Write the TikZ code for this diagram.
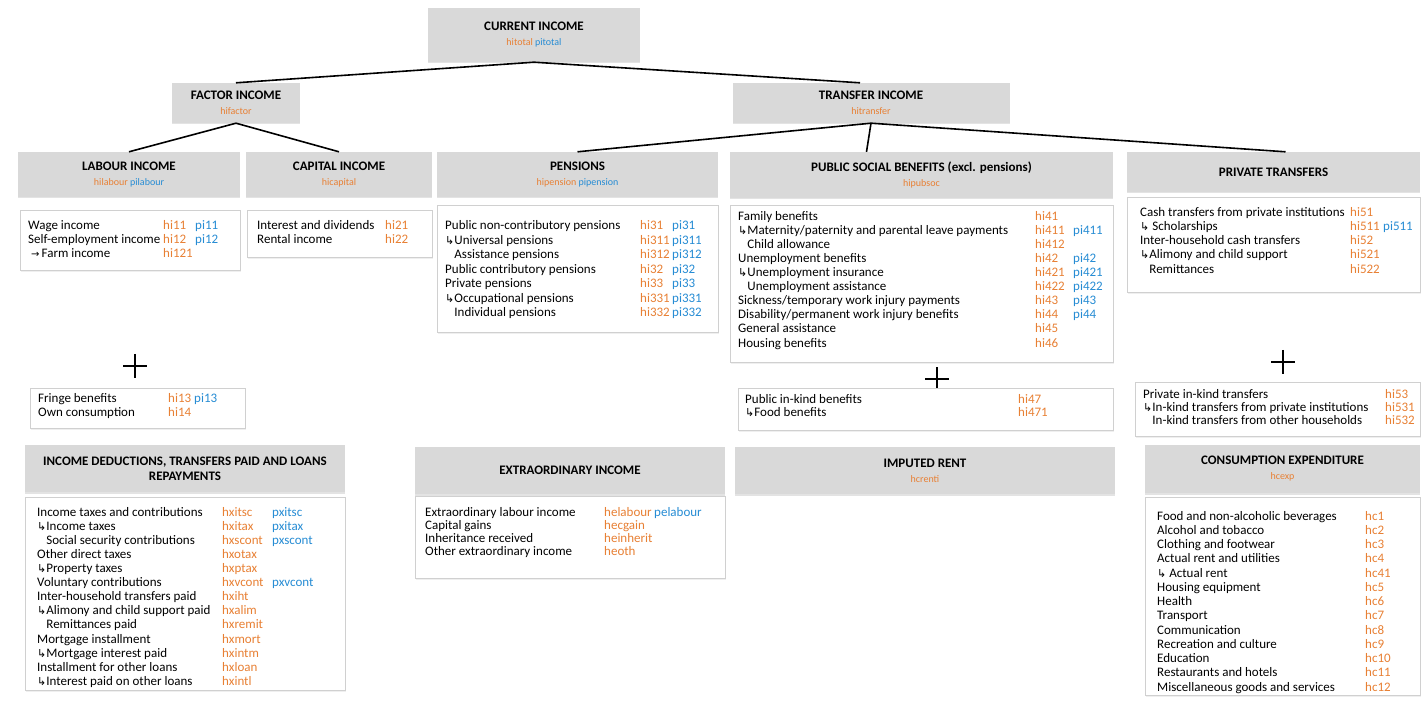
\documentclass[tikz,border=0pt]{standalone}
\usepackage{fontspec}
\setmainfont{Carlito}
\newfontfamily\symfont{DejaVu Sans}
\usepackage{array}
\usetikzlibrary{shadows}
\definecolor{hdrgray}{RGB}{217,217,217}
\definecolor{codeor}{RGB}{232,128,52}
\definecolor{codebl}{RGB}{38,140,212}
\definecolor{boxline}{RGB}{208,208,208}
\newcommand\ho[1]{\textcolor{codeor}{#1}}
\newcommand\pb[1]{\textcolor{codebl}{#1}}
\newcommand\harr{{\symfont\fontsize{11}{11}\selectfont ↳}}
\newcommand\rarr{{\symfont\fontsize{10}{10}\selectfont →}\,}
\newcommand\hind{\phantom{\harr}}
\newcommand\hcode[1]{{\fontsize{10}{12}\selectfont\mdseries #1}}
\tikzset{
  hdrbox/.style={fill=hdrgray, draw=none, inner sep=2pt, align=center,
    font=\fontsize{13}{15}\selectfont\bfseries,
    drop shadow={opacity=0.22, shadow xshift=0pt, shadow yshift=-1.5pt}},
  cbox/.style={draw=boxline, line width=0.8pt, fill=white, anchor=north west, inner sep=0pt,
    drop shadow={opacity=0.12, shadow xshift=0.8pt, shadow yshift=-1.2pt}},
  ctext/.style={anchor=north west, inner sep=0pt},
  conn/.style={line width=1.6pt, black},
  plussign/.style={minimum size=24pt, inner sep=0pt,
    path picture={\draw[line width=2.6pt] (path picture bounding box.north) -- (path picture bounding box.south)
      (path picture bounding box.west) -- (path picture bounding box.east);}}
}
\begin{document}
\begin{tikzpicture}[x=1pt,y=-1pt]
\fill[white] (0,0) rectangle (1422,703);
\useasboundingbox (0,0) rectangle (1422,703);

% ---------- headers ----------
\node[hdrbox, minimum width=212pt, minimum height=54pt] (cur) at (534,35) {CURRENT INCOME\\\hcode{\ho{hitotal} \pb{pitotal}}};
\node[hdrbox, minimum width=128pt, minimum height=40pt] (fac) at (236,103) {FACTOR INCOME\\\hcode{\ho{hifactor}}};
\node[hdrbox, minimum width=277pt, minimum height=40pt] (tra) at (871,103) {TRANSFER INCOME\\\hcode{\ho{hitransfer}}};

\node[hdrbox, minimum width=222pt, minimum height=45pt] (lab) at (129,174.5) {LABOUR INCOME\\\hcode{\ho{hilabour} \pb{pilabour}}};
\node[hdrbox, minimum width=186pt, minimum height=45pt] (cap) at (339,174.5) {CAPITAL INCOME\\\hcode{\ho{hicapital}}};
\node[hdrbox, minimum width=281pt, minimum height=45pt] (pen) at (577.5,174.5) {PENSIONS\\\hcode{\ho{hipension} \pb{pipension}}};
\node[hdrbox, minimum width=383pt, minimum height=46pt] (pub) at (921.5,175) {PUBLIC SOCIAL BENEFITS (excl. pensions)\\\hcode{\ho{hipubsoc}}};
\node[hdrbox, minimum width=293pt, minimum height=40pt] (prt) at (1273.5,172) {PRIVATE TRANSFERS};

\node[hdrbox, minimum width=320pt, minimum height=47pt] (ded) at (185,468.5) {INCOME DEDUCTIONS, TRANSFERS PAID AND LOANS\\REPAYMENTS};
\node[hdrbox, minimum width=310pt, minimum height=47pt] (ext) at (570,470.5) {EXTRAORDINARY INCOME};
\node[hdrbox, minimum width=380pt, minimum height=47pt] (imp) at (925,470.5) {IMPUTED RENT\\\hcode{\ho{hcrenti}}};
\node[hdrbox, minimum width=275pt, minimum height=48pt] (con) at (1282.5,469) {CONSUMPTION EXPENDITURE\\\hcode{\ho{hcexp}}};

% ---------- connectors ----------
\draw[conn] (cur.south) -- (fac.north);
\draw[conn] (cur.south) -- ([xshift=-11pt]tra.north);
\draw[conn] (fac.south) -- (lab.north);
\draw[conn] (fac.south) -- (cap.north);
\draw[conn] (tra.south) -- (pen.north);
\draw[conn] (tra.south) -- ([xshift=-55pt]pub.north);
\draw[conn] (tra.south) -- ([xshift=12pt]prt.north);

% ---------- content boxes ----------
\node[cbox, minimum width=220pt, minimum height=60pt] (labC) at (20,210) {};
\node[ctext, font=\fontsize{13}{14}\selectfont] (labT) at (28,219.2) {\begin{tabular}{@{}p{135pt}@{}p{32pt}@{}l@{}}
Wage income & \ho{hi11} & \pb{pi11}\\
Self-employment income & \ho{hi12} & \pb{pi12}\\
\hspace{3pt}\rarr Farm income & \ho{hi121} &
\end{tabular}};

\node[cbox, minimum width=185pt, minimum height=47pt] (capC) at (247,210) {};
\node[ctext, font=\fontsize{13}{14}\selectfont] (capT) at (257,219.2) {\begin{tabular}{@{}p{128pt}@{}l@{}}
Interest and dividends & \ho{hi21}\\
Rental income & \ho{hi22}
\end{tabular}};

\node[cbox, minimum width=281pt, minimum height=127pt] (penC) at (437,205) {};
\node[ctext, font=\fontsize{13}{14.5}\selectfont] (penT) at (445,219.4) {\begin{tabular}{@{}p{195pt}@{}p{32pt}@{}l@{}}
Public non-contributory pensions & \ho{hi31} & \pb{pi31}\\
\harr Universal pensions & \ho{hi311} & \pb{pi311}\\
\hind Assistance pensions & \ho{hi312} & \pb{pi312}\\
Public contributory pensions & \ho{hi32} & \pb{pi32}\\
Private pensions & \ho{hi33} & \pb{pi33}\\
\harr Occupational pensions & \ho{hi331} & \pb{pi331}\\
\hind Individual pensions & \ho{hi332} & \pb{pi332}
\end{tabular}};

\node[cbox, minimum width=383pt, minimum height=157pt] (pubC) at (730,205) {};
\node[ctext, font=\fontsize{13}{14.1}\selectfont] (pubT) at (738,210.1) {\begin{tabular}{@{}p{297pt}@{}p{38pt}@{}l@{}}
Family benefits & \ho{hi41} & \\
\harr Maternity/paternity and parental leave payments & \ho{hi411} & \pb{pi411}\\
\hind Child allowance & \ho{hi412} & \\
Unemployment benefits & \ho{hi42} & \pb{pi42}\\
\harr Unemployment insurance & \ho{hi421} & \pb{pi421}\\
\hind Unemployment assistance & \ho{hi422} & \pb{pi422}\\
Sickness/temporary work injury payments & \ho{hi43} & \pb{pi43}\\
Disability/permanent work injury benefits & \ho{hi44} & \pb{pi44}\\
General assistance & \ho{hi45} & \\
Housing benefits & \ho{hi46} &
\end{tabular}};

\node[cbox, minimum width=293pt, minimum height=95pt] (prtC) at (1127,197) {};
\node[ctext, font=\fontsize{13}{14.2}\selectfont] (prtT) at (1140,206.1) {\begin{tabular}{@{}p{210pt}@{}p{33pt}@{}l@{}}
Cash transfers from private institutions & \ho{hi51} & \\
\harr\ Scholarships & \ho{hi511} & \pb{pi511}\\
Inter-household cash transfers & \ho{hi52} & \\
\harr Alimony and child support & \ho{hi521} & \\
\hind Remittances & \ho{hi522} &
\end{tabular}};

% ---------- plus signs ----------
\node[plussign] (plusA) at (135,366) {};
\node[plussign] (plusB) at (937,379) {};
\node[plussign] (plusC) at (1283,362) {};

\node[cbox, minimum width=215pt, minimum height=40pt] (fri) at (30,388) {};
\node[ctext, font=\fontsize{13}{14}\selectfont] (friT) at (38,392.2) {\begin{tabular}{@{}p{130pt}@{}p{26pt}@{}l@{}}
Fringe benefits & \ho{hi13} & \pb{pi13}\\
Own consumption & \ho{hi14} &
\end{tabular}};

\node[cbox, minimum width=375pt, minimum height=42pt] (pik) at (738,388) {};
\node[ctext, font=\fontsize{13}{13}\selectfont] (pikT) at (745,393.9) {\begin{tabular}{@{}p{273pt}@{}l@{}}
Public in-kind benefits & \ho{hi47}\\
\harr Food benefits & \ho{hi471}
\end{tabular}};

\node[cbox, minimum width=285pt, minimum height=54pt] (prk) at (1135,382) {};
\node[ctext, font=\fontsize{13}{12.5}\selectfont] (prkT) at (1143,389.25) {\begin{tabular}{@{}p{242pt}@{}l@{}}
Private in-kind transfers & \ho{hi53}\\
\harr In-kind transfers from private institutions & \ho{hi531}\\
\hind In-kind transfers from other households & \ho{hi532}
\end{tabular}};

% ---------- bottom row contents ----------
\node[cbox, minimum width=320pt, minimum height=193pt] (dedC) at (25,497) {};
\node[ctext, font=\fontsize{13}{14.1}\selectfont] (dedT) at (37,506.1) {\begin{tabular}{@{}p{185pt}@{}p{50pt}@{}l@{}}
Income taxes and contributions & \ho{hxitsc} & \pb{pxitsc}\\
\harr Income taxes & \ho{hxitax} & \pb{pxitax}\\
\hind Social security contributions & \ho{hxscont} & \pb{pxscont}\\
Other direct taxes & \ho{hxotax} & \\
\harr Property taxes & \ho{hxptax} & \\
Voluntary contributions & \ho{hxvcont} & \pb{pxvcont}\\
Inter-household transfers paid & \ho{hxiht} & \\
\harr Alimony and child support paid & \ho{hxalim} & \\
\hind Remittances paid & \ho{hxremit} & \\
Mortgage installment & \ho{hxmort} & \\
\harr Mortgage interest paid & \ho{hxintm} & \\
Installment for other loans & \ho{hxloan} & \\
\harr Interest paid on other loans & \ho{hxintl} &
\end{tabular}};

\node[cbox, minimum width=310pt, minimum height=82pt] (extC) at (415,496) {};
\node[ctext, font=\fontsize{13}{13}\selectfont] (extT) at (425,506.9) {\begin{tabular}{@{}p{179pt}@{}p{50pt}@{}l@{}}
Extraordinary labour income & \ho{helabour} & \pb{pelabour}\\
Capital gains & \ho{hecgain} & \\
Inheritance received & \ho{heinherit} & \\
Other extraordinary income & \ho{heoth} &
\end{tabular}};

\node[cbox, minimum width=275pt, minimum height=198pt] (conC) at (1145,497) {};
\node[ctext, font=\fontsize{13}{14.25}\selectfont] (conT) at (1157,510) {\begin{tabular}{@{}p{208pt}@{}l@{}}
Food and non-alcoholic beverages & \ho{hc1}\\
Alcohol and tobacco & \ho{hc2}\\
Clothing and footwear & \ho{hc3}\\
Actual rent and utilities & \ho{hc4}\\
\harr\ Actual rent & \ho{hc41}\\
Housing equipment & \ho{hc5}\\
Health & \ho{hc6}\\
Transport & \ho{hc7}\\
Communication & \ho{hc8}\\
Recreation and culture & \ho{hc9}\\
Education & \ho{hc10}\\
Restaurants and hotels & \ho{hc11}\\
Miscellaneous goods and services & \ho{hc12}
\end{tabular}};
\end{tikzpicture}
\end{document}
